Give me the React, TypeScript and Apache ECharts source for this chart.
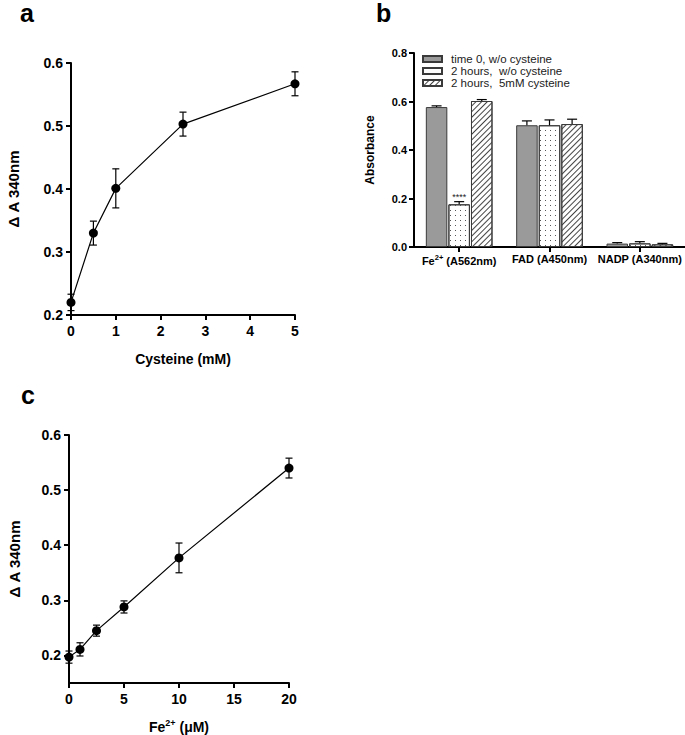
import React, { useEffect, useRef } from "react";
import * as echarts from "echarts";

// Panel a
const aX = [0, 0.5, 1, 2.5, 5];
const aY = [0.22, 0.33, 0.401, 0.503, 0.567];
const aErr = [0.013, 0.019, 0.031, 0.019, 0.019];

// Panel b
const bCategories = ["Fe2+ (A562nm)", "FAD (A450nm)", "NADP (A340nm)"];
const bSeriesNames = ["time 0, w/o cysteine", "2 hours,  w/o cysteine", "2 hours,  5mM cysteine"];
const bTime0 = [0.577, 0.502, 0.014];
const bTime0Err = [0.005, 0.018, 0.004];
const b2hNoCys = [0.176, 0.502, 0.015];
const b2hNoCysErr = [0.011, 0.022, 0.007];
const b2hCys = [0.602, 0.507, 0.011];
const b2hCysErr = [0.006, 0.02, 0.004];
const b2hNoCysSignif = ["****", "", ""];

// Panel c
const cX = [0, 1, 2.5, 5, 10, 20];
const cY = [0.197, 0.211, 0.245, 0.288, 0.377, 0.54];
const cErr = [0.011, 0.012, 0.01, 0.011, 0.027, 0.018];
const cYTicks = [0.2, 0.3, 0.4, 0.5, 0.6];

const FONT = "Liberation Sans";

function errRender(capHalf: number, upOnly: boolean, offset: number) {
  return (params: any, api: any) => {
    const x = api.value(0);
    const y = api.value(1);
    const e = api.value(2);
    const c = api.coord([x, y]);
    const t = api.coord([x, y + e]);
    const b = upOnly ? c : api.coord([x, y - e]);
    const px = c[0] + offset;
    const style = { stroke: "#000", lineWidth: 1.2, fill: null };
    const children: any[] = [
      { type: "line", shape: { x1: px, y1: t[1], x2: px, y2: b[1] }, style },
      { type: "line", shape: { x1: px - capHalf, y1: t[1], x2: px + capHalf, y2: t[1] }, style },
    ];
    if (!upOnly) {
      children.push({ type: "line", shape: { x1: px - capHalf, y1: b[1], x2: px + capHalf, y2: b[1] }, style });
    }
    return { type: "group", children };
  };
}

const axisLineStyle = { show: true, lineStyle: { color: "#000", width: 2 } };
const axisTickStyle = { show: true, length: 5, lineStyle: { color: "#000", width: 2 } };
const supRich = {
  b: { fontFamily: FONT, fontWeight: "bold", fontSize: 11, color: "#000" },
  sup: { fontFamily: FONT, fontWeight: "bold", fontSize: 7.5, color: "#000", padding: [0, 0, 7, 0] },
};
const supRichC = {
  b: { fontFamily: FONT, fontWeight: "bold", fontSize: 14, color: "#000" },
  sup: { fontFamily: FONT, fontWeight: "bold", fontSize: 9, color: "#000", padding: [0, 0, 8, 0] },
};
function supFormat(s: string) {
  const m = s.match(/^(.*?)(\d\+)(.*)$/);
  if (!m) return "{b|" + s + "}";
  return "{b|" + m[1] + "}{sup|" + m[2] + "}{b|" + m[3] + "}";
}

export default function App() {
  const ref = useRef<HTMLDivElement>(null);
  useEffect(() => {
    if (!ref.current) return;
    const chart = echarts.init(ref.current, undefined, { renderer: "svg" });
    const barW = 21.5;
    const off = 22.6;
    const option: any = {
      animation: false,
      backgroundColor: "#fff",
      textStyle: { fontFamily: FONT },
      graphic: [
        { type: "text", x: 20, y: 13, style: { text: "a", font: `bold 25px '${FONT}'`, fill: "#000", textVerticalAlign: "middle" } },
        { type: "text", x: 376, y: 13, style: { text: "b", font: `bold 25px '${FONT}'`, fill: "#000", textVerticalAlign: "middle" } },
        { type: "text", x: 21, y: 395, style: { text: "c", font: `bold 25px '${FONT}'`, fill: "#000", textVerticalAlign: "middle" } },
      ],
      legend: {
        data: bSeriesNames,
        orient: "vertical",
        left: 422,
        top: 53,
        padding: 0,
        itemWidth: 19,
        itemHeight: 6,
        itemGap: 0,
        icon: "rect",
        textStyle: { fontFamily: FONT, fontSize: 11.5, color: "#222", padding: [0, 0, 0, 4], lineHeight: 12 },
      },
      grid: [
        { left: 71, top: 63, width: 224, height: 252, outerBoundsMode: "none" },
        { left: 414, top: 53, width: 271, height: 194, outerBoundsMode: "none" },
        { left: 69, top: 435, width: 220, height: 248, outerBoundsMode: "none" },
      ],
      xAxis: [
        {
          gridIndex: 0, type: "value", min: 0, max: 5, interval: 1,
          name: "Cysteine (mM)", nameLocation: "middle", nameGap: 37,
          nameTextStyle: { fontFamily: FONT, fontWeight: "bold", fontSize: 14, color: "#000" },
          axisLine: axisLineStyle, axisTick: axisTickStyle, splitLine: { show: false },
          axisLabel: { fontFamily: FONT, fontWeight: "bold", fontSize: 14, color: "#000", margin: 9 },
        },
        {
          gridIndex: 1, type: "category", data: bCategories,
          axisLine: axisLineStyle, axisTick: { ...axisTickStyle, alignWithLabel: true, interval: 0 }, splitLine: { show: false },
          axisLabel: { interval: 0, hideOverlap: false, margin: 6, formatter: (v: string) => supFormat(v), rich: supRich },
        },
        {
          gridIndex: 2, type: "value", min: 0, max: 20, interval: 5,
          name: supFormat("Fe2+ (\u03bcM)"), nameLocation: "middle", nameGap: 35,
          nameTextStyle: { rich: supRichC },
          axisLine: axisLineStyle, axisTick: axisTickStyle, splitLine: { show: false },
          axisLabel: { fontFamily: FONT, fontWeight: "bold", fontSize: 14, color: "#000", margin: 9 },
        },
      ],
      yAxis: [
        {
          gridIndex: 0, type: "value", min: 0.2, max: 0.6, interval: 0.1,
          name: "\u0394 A 340nm", nameLocation: "middle", nameGap: 50,
          nameTextStyle: { fontFamily: FONT, fontWeight: "bold", fontSize: 15, color: "#000" },
          axisLine: axisLineStyle, axisTick: axisTickStyle, splitLine: { show: false },
          axisLabel: { fontFamily: FONT, fontWeight: "bold", fontSize: 14, color: "#000", margin: 8, formatter: (v: number) => v.toFixed(1) },
        },
        {
          gridIndex: 1, type: "value", min: 0, max: 0.8, interval: 0.2,
          name: "Absorbance", nameLocation: "middle", nameGap: 38,
          nameTextStyle: { fontFamily: FONT, fontWeight: "bold", fontSize: 12, color: "#000" },
          axisLine: axisLineStyle, axisTick: axisTickStyle, splitLine: { show: false },
          axisLabel: { fontFamily: FONT, fontWeight: "bold", fontSize: 11, color: "#000", margin: 7, formatter: (v: number) => v.toFixed(1) },
        },
        {
          gridIndex: 2, type: "value", min: 0.15, max: 0.6,
          name: "\u0394 A 340nm", nameLocation: "middle", nameGap: 47,
          nameTextStyle: { fontFamily: FONT, fontWeight: "bold", fontSize: 15, color: "#000" },
          axisLine: axisLineStyle,
          axisTick: { ...axisTickStyle, customValues: cYTicks },
          splitLine: { show: false },
          axisLabel: { fontFamily: FONT, fontWeight: "bold", fontSize: 14, color: "#000", margin: 8, customValues: cYTicks, formatter: (v: number) => v.toFixed(1) },
        },
      ],
      series: [
        // panel a
        {
          type: "line", xAxisIndex: 0, yAxisIndex: 0, clip: false,
          data: aX.map((x, i) => [x, aY[i]]),
          symbol: "circle", symbolSize: 9,
          lineStyle: { color: "#000", width: 1.2 }, itemStyle: { color: "#000" }, z: 3,
        },
        {
          type: "custom", xAxisIndex: 0, yAxisIndex: 0, clip: false,
          data: aX.map((x, i) => [x, aY[i], aErr[i]]),
          encode: { x: 0, y: 1 }, renderItem: errRender(3.5, false, 0), z: 4,
        },
        // panel b bars
        {
          name: bSeriesNames[0], type: "bar", xAxisIndex: 1, yAxisIndex: 1,
          data: bTime0, barWidth: barW, barGap: "5%",
          itemStyle: { color: "#9a9a9a", borderColor: "#3a3a3a", borderWidth: 1 },
        },
        {
          name: bSeriesNames[1], type: "bar", xAxisIndex: 1, yAxisIndex: 1,
          data: b2hNoCys.map((v, i) => ({
            value: v,
            label: {
              show: b2hNoCysSignif[i] !== "", position: "top", distance: 3,
              formatter: b2hNoCysSignif[i], fontFamily: FONT, fontSize: 9, color: "#222",
            },
          })),
          barWidth: barW, barGap: "5%",
          itemStyle: {
            color: "#fff", borderColor: "#3a3a3a", borderWidth: 1,
            decal: { symbol: "rect", symbolSize: 1, color: "#555", dashArrayX: [1, 4], dashArrayY: [1, 4], rotation: 0 },
          },
        },
        {
          name: bSeriesNames[2], type: "bar", xAxisIndex: 1, yAxisIndex: 1,
          data: b2hCys, barWidth: barW, barGap: "5%",
          itemStyle: {
            color: "#fff", borderColor: "#3a3a3a", borderWidth: 1,
            decal: { symbol: "rect", symbolSize: 1, color: "#444", dashArrayX: [1, 0], dashArrayY: [1, 2.8], rotation: -Math.PI / 4 },
          },
        },
        // panel b error bars
        {
          type: "custom", xAxisIndex: 1, yAxisIndex: 1,
          data: bTime0.map((v, i) => [i, v, bTime0Err[i]]),
          encode: { x: 0, y: 1 }, renderItem: errRender(5, true, -off), z: 5,
        },
        {
          type: "custom", xAxisIndex: 1, yAxisIndex: 1,
          data: b2hNoCys.map((v, i) => [i, v, b2hNoCysErr[i]]),
          encode: { x: 0, y: 1 }, renderItem: errRender(5, true, 0), z: 5,
        },
        {
          type: "custom", xAxisIndex: 1, yAxisIndex: 1,
          data: b2hCys.map((v, i) => [i, v, b2hCysErr[i]]),
          encode: { x: 0, y: 1 }, renderItem: errRender(5, true, off), z: 5,
        },
        // panel c
        {
          type: "line", xAxisIndex: 2, yAxisIndex: 2, clip: false,
          data: cX.map((x, i) => [x, cY[i]]),
          symbol: "circle", symbolSize: 9,
          lineStyle: { color: "#000", width: 1.2 }, itemStyle: { color: "#000" }, z: 3,
        },
        {
          type: "custom", xAxisIndex: 2, yAxisIndex: 2, clip: false,
          data: cX.map((x, i) => [x, cY[i], cErr[i]]),
          encode: { x: 0, y: 1 }, renderItem: errRender(3.5, false, 0), z: 4,
        },
      ],
    };
    chart.setOption(option);
    return () => chart.dispose();
  }, []);
  return (
    <div
      ref={ref}
      style={{ position: "absolute", left: 0, top: 0, width: 685, height: 735, background: "#fff" }}
    />
  );
}
